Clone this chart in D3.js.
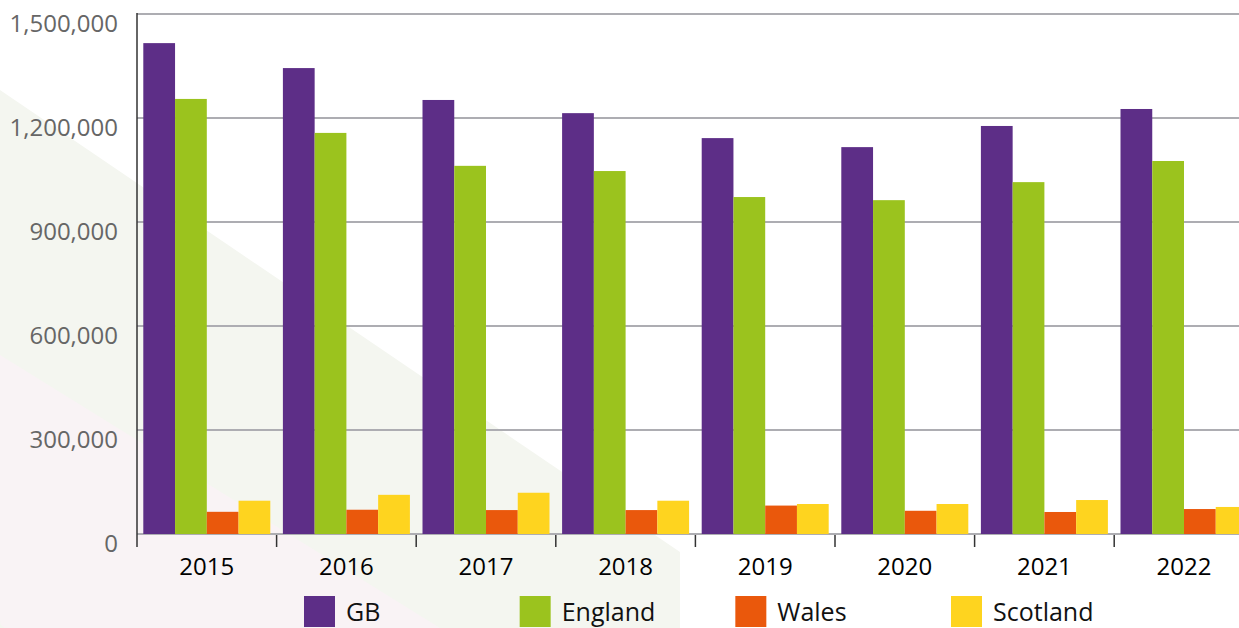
<!DOCTYPE html>
<html>
<head>
<meta charset="utf-8">
<script src="https://cdn.jsdelivr.net/npm/d3@7"></script>
<style>
  html, body { margin: 0; padding: 0; background: #ffffff; }
  svg { display: block; }
  text { font-family: "Open Sans", "Noto Sans", sans-serif; }
</style>
</head>
<body>
<svg id="chart" width="1239" height="628"></svg>
<script>
// ---- Data ----
const years = ["2015", "2016", "2017", "2018", "2019", "2020", "2021", "2022"];
const seriesNames = ["GB", "England", "Wales", "Scotland"];
const gbValues       = [1416000, 1344000, 1252000, 1214000, 1142000, 1116000, 1177000, 1226000];
const englandValues  = [1255000, 1157000, 1062000, 1047000, 972000, 963000, 1015000, 1076000];
const walesValues    = [64000, 70000, 69000, 69000, 82000, 67000, 63500, 72000];
const scotlandValues = [96000, 113000, 119000, 96000, 86500, 86500, 98000, 78000];
const yTickValues = [0, 300000, 600000, 900000, 1200000, 1500000];
const seriesColors = ["#5d2e87", "#9bc31e", "#ea580c", "#fed41f"];

const seriesData = [gbValues, englandValues, walesValues, scotlandValues];

// ---- Layout ----
const W = 1239, H = 628;
const plotLeft = 137, bandStep = 139.6;
const plotRight = plotLeft + bandStep * years.length;
const yTop = 14, yZero = 534;

const svg = d3.select("#chart");

// background decorative shapes
svg.append("polygon")
  .attr("points", [[0, 90], [680, 552], [680, H], [0, H]].map(p => p.join(",")).join(" "))
  .attr("fill", "#f4f6f0");
svg.append("path")
  .attr("d", "M0,355 L440,628 L8,628 Q0,628 0,620 Z")
  .attr("fill", "#f9f3f5");

const x0 = d3.scaleBand().domain(years).range([plotLeft, plotRight]).padding(0);
const x1 = d3.scaleBand().domain(seriesNames).range([6.3, bandStep - 6.3]).padding(0);
const y = d3.scaleLinear().domain([0, 1500000]).range([yZero, yTop]);
const color = d3.scaleOrdinal().domain(seriesNames).range(seriesColors);

// gridlines
svg.append("g").selectAll("line")
  .data(yTickValues)
  .join("line")
  .attr("x1", plotLeft).attr("x2", W)
  .attr("y1", d => y(d)).attr("y2", d => y(d))
  .attr("stroke", "#adadb2").attr("stroke-width", 2);

// bars
const groups = svg.append("g").selectAll("g")
  .data(years)
  .join("g")
  .attr("transform", d => `translate(${x0(d)},0)`);

groups.selectAll("rect")
  .data((yr, i) => seriesNames.map((s, j) => ({ s, v: seriesData[j][i] })))
  .join("rect")
  .attr("x", d => x1(d.s))
  .attr("width", x1.bandwidth())
  .attr("y", d => y(d.v))
  .attr("height", d => yZero - y(d.v))
  .attr("fill", d => color(d.s));

// y axis line
svg.append("line")
  .attr("x1", plotLeft).attr("x2", plotLeft)
  .attr("y1", yTop - 1).attr("y2", yZero + 13)
  .attr("stroke", "#333").attr("stroke-width", 1.5);

// x ticks at category boundaries
svg.append("g").selectAll("line")
  .data(years.slice(1))
  .join("line")
  .attr("x1", d => x0(d)).attr("x2", d => x0(d))
  .attr("y1", yZero + 1).attr("y2", yZero + 13)
  .attr("stroke", "#333").attr("stroke-width", 1.5);

// y labels
svg.append("g").selectAll("text")
  .data(yTickValues)
  .join("text")
  .attr("x", 118)
  .attr("y", d => y(d) + 18)
  .attr("text-anchor", "end")
  .attr("font-size", 24)
  .attr("fill", "#666666")
  .text(d => d3.format(",")(d));

// x labels
svg.append("g").selectAll("text")
  .data(years)
  .join("text")
  .attr("x", d => x0(d) + x0.bandwidth() / 2)
  .attr("y", 575)
  .attr("text-anchor", "middle")
  .attr("font-size", 24)
  .attr("fill", "#000000")
  .text(d => d);

// legend
const legendX = d3.scalePoint().domain(seriesNames).range([304, 951]);
const legend = svg.append("g").selectAll("g")
  .data(seriesNames)
  .join("g")
  .attr("transform", d => `translate(${legendX(d)},596)`);
legend.append("rect")
  .attr("width", 31).attr("height", 31)
  .attr("fill", d => color(d));
legend.append("text")
  .attr("x", 42).attr("y", 24.5)
  .attr("font-size", 25)
  .attr("fill", "#111111")
  .text(d => d);
</script>
</body>
</html>
